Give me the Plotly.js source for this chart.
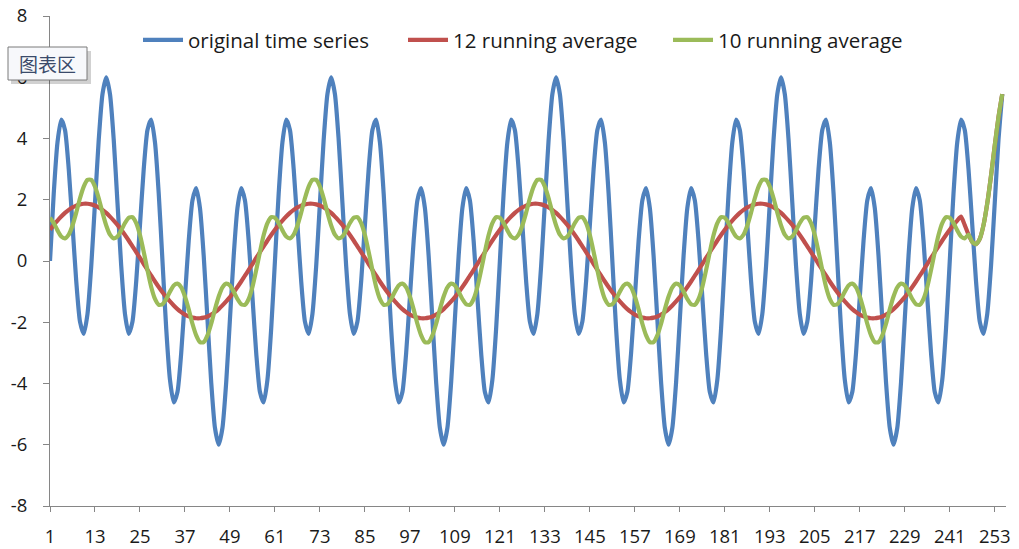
<!DOCTYPE html>
<html>
<head>
<meta charset="utf-8">
<script src="https://cdn.plot.ly/plotly-3.0.1.min.js"></script>
<style>
html,body{margin:0;padding:0;background:#fff;}
#chart{width:1019px;height:549px;}
</style>
</head>
<body>
<div id="chart"></div>
<script>
const seriesNames = ['original time series', '12 running average', '10 running average'];

const originalSeries = [
0,2.21,3.88,4.62,4.28,3.00,1.18,-0.66,-1.98,-2.38,-1.73,-0.17,1.90,3.96,5.45,6.00,5.45,3.96,1.90,-0.17,-1.73,-2.38,-1.98,-0.66,1.18,3.00,4.28,4.62,3.88,2.21,
0,-2.21,-3.88,-4.62,-4.28,-3.00,-1.18,0.66,1.98,2.38,1.73,0.17,-1.90,-3.96,-5.45,-6.00,-5.45,-3.96,-1.90,0.17,1.73,2.38,1.98,0.66,-1.18,-3.00,-4.28,-4.62,-3.88,-2.21,
0,2.21,3.88,4.62,4.28,3.00,1.18,-0.66,-1.98,-2.38,-1.73,-0.17,1.90,3.96,5.45,6.00,5.45,3.96,1.90,-0.17,-1.73,-2.38,-1.98,-0.66,1.18,3.00,4.28,4.62,3.88,2.21,
0,-2.21,-3.88,-4.62,-4.28,-3.00,-1.18,0.66,1.98,2.38,1.73,0.17,-1.90,-3.96,-5.45,-6.00,-5.45,-3.96,-1.90,0.17,1.73,2.38,1.98,0.66,-1.18,-3.00,-4.28,-4.62,-3.88,-2.21,
0,2.21,3.88,4.62,4.28,3.00,1.18,-0.66,-1.98,-2.38,-1.73,-0.17,1.90,3.96,5.45,6.00,5.45,3.96,1.90,-0.17,-1.73,-2.38,-1.98,-0.66,1.18,3.00,4.28,4.62,3.88,2.21,
0,-2.21,-3.88,-4.62,-4.28,-3.00,-1.18,0.66,1.98,2.38,1.73,0.17,-1.90,-3.96,-5.45,-6.00,-5.45,-3.96,-1.90,0.17,1.73,2.38,1.98,0.66,-1.18,-3.00,-4.28,-4.62,-3.88,-2.21,
0,2.21,3.88,4.62,4.28,3.00,1.18,-0.66,-1.98,-2.38,-1.73,-0.17,1.90,3.96,5.45,6.00,5.45,3.96,1.90,-0.17,-1.73,-2.38,-1.98,-0.66,1.18,3.00,4.28,4.62,3.88,2.21,
0,-2.21,-3.88,-4.62,-4.28,-3.00,-1.18,0.66,1.98,2.38,1.73,0.17,-1.90,-3.96,-5.45,-6.00,-5.45,-3.96,-1.90,0.17,1.73,2.38,1.98,0.66,-1.18,-3.00,-4.28,-4.62,-3.88,-2.21,
0,2.21,3.88,4.62,4.28,3.00,1.18,-0.66,-1.98,-2.38,-1.73,-0.17,1.90,3.96,5.45
];

const running12 = [
1.02,1.18,1.32,1.45,1.57,1.67,1.75,1.81,1.85,1.87,1.87,1.85,1.81,1.75,1.67,1.57,1.45,1.32,1.18,1.02,0.85,0.67,0.48,0.29,0.10,-0.10,-0.29,-0.48,-0.67,-0.85,
-1.02,-1.18,-1.32,-1.45,-1.57,-1.67,-1.75,-1.81,-1.85,-1.87,-1.87,-1.85,-1.81,-1.75,-1.67,-1.57,-1.45,-1.32,-1.18,-1.02,-0.85,-0.67,-0.48,-0.29,-0.10,0.10,0.29,0.48,0.67,0.85,
1.02,1.18,1.32,1.45,1.57,1.67,1.75,1.81,1.85,1.87,1.87,1.85,1.81,1.75,1.67,1.57,1.45,1.32,1.18,1.02,0.85,0.67,0.48,0.29,0.10,-0.10,-0.29,-0.48,-0.67,-0.85,
-1.02,-1.18,-1.32,-1.45,-1.57,-1.67,-1.75,-1.81,-1.85,-1.87,-1.87,-1.85,-1.81,-1.75,-1.67,-1.57,-1.45,-1.32,-1.18,-1.02,-0.85,-0.67,-0.48,-0.29,-0.10,0.10,0.29,0.48,0.67,0.85,
1.02,1.18,1.32,1.45,1.57,1.67,1.75,1.81,1.85,1.87,1.87,1.85,1.81,1.75,1.67,1.57,1.45,1.32,1.18,1.02,0.85,0.67,0.48,0.29,0.10,-0.10,-0.29,-0.48,-0.67,-0.85,
-1.02,-1.18,-1.32,-1.45,-1.57,-1.67,-1.75,-1.81,-1.85,-1.87,-1.87,-1.85,-1.81,-1.75,-1.67,-1.57,-1.45,-1.32,-1.18,-1.02,-0.85,-0.67,-0.48,-0.29,-0.10,0.10,0.29,0.48,0.67,0.85,
1.02,1.18,1.32,1.45,1.57,1.67,1.75,1.81,1.85,1.87,1.87,1.85,1.81,1.75,1.67,1.57,1.45,1.32,1.18,1.02,0.85,0.67,0.48,0.29,0.10,-0.10,-0.29,-0.48,-0.67,-0.85,
-1.02,-1.18,-1.32,-1.45,-1.57,-1.67,-1.75,-1.81,-1.85,-1.87,-1.87,-1.85,-1.81,-1.75,-1.67,-1.57,-1.45,-1.32,-1.18,-1.02,-0.85,-0.67,-0.48,-0.29,-0.10,0.10,0.29,0.48,0.67,0.85,
1.02,1.18,1.32,1.45,1.17,0.86,0.62,0.55,0.72,1.17,1.88,2.78,3.77,4.70,5.45
];

const running10 = [
1.41,1.24,1.00,0.80,0.74,0.86,1.16,1.58,2.05,2.43,2.65,2.65,2.43,2.05,1.58,1.16,0.86,0.74,0.80,1.00,1.24,1.41,1.43,1.24,0.85,0.30,-0.30,-0.85,-1.24,-1.43,
-1.41,-1.24,-1.00,-0.80,-0.74,-0.86,-1.16,-1.58,-2.05,-2.43,-2.65,-2.65,-2.43,-2.05,-1.58,-1.16,-0.86,-0.74,-0.80,-1.00,-1.24,-1.41,-1.43,-1.24,-0.85,-0.30,0.30,0.85,1.24,1.43,
1.41,1.24,1.00,0.80,0.74,0.86,1.16,1.58,2.05,2.43,2.65,2.65,2.43,2.05,1.58,1.16,0.86,0.74,0.80,1.00,1.24,1.41,1.43,1.24,0.85,0.30,-0.30,-0.85,-1.24,-1.43,
-1.41,-1.24,-1.00,-0.80,-0.74,-0.86,-1.16,-1.58,-2.05,-2.43,-2.65,-2.65,-2.43,-2.05,-1.58,-1.16,-0.86,-0.74,-0.80,-1.00,-1.24,-1.41,-1.43,-1.24,-0.85,-0.30,0.30,0.85,1.24,1.43,
1.41,1.24,1.00,0.80,0.74,0.86,1.16,1.58,2.05,2.43,2.65,2.65,2.43,2.05,1.58,1.16,0.86,0.74,0.80,1.00,1.24,1.41,1.43,1.24,0.85,0.30,-0.30,-0.85,-1.24,-1.43,
-1.41,-1.24,-1.00,-0.80,-0.74,-0.86,-1.16,-1.58,-2.05,-2.43,-2.65,-2.65,-2.43,-2.05,-1.58,-1.16,-0.86,-0.74,-0.80,-1.00,-1.24,-1.41,-1.43,-1.24,-0.85,-0.30,0.30,0.85,1.24,1.43,
1.41,1.24,1.00,0.80,0.74,0.86,1.16,1.58,2.05,2.43,2.65,2.65,2.43,2.05,1.58,1.16,0.86,0.74,0.80,1.00,1.24,1.41,1.43,1.24,0.85,0.30,-0.30,-0.85,-1.24,-1.43,
-1.41,-1.24,-1.00,-0.80,-0.74,-0.86,-1.16,-1.58,-2.05,-2.43,-2.65,-2.65,-2.43,-2.05,-1.58,-1.16,-0.86,-0.74,-0.80,-1.00,-1.24,-1.41,-1.43,-1.24,-0.85,-0.30,0.30,0.85,1.24,1.43,
1.41,1.24,1.00,0.80,0.74,0.86,0.62,0.55,0.72,1.17,1.88,2.78,3.77,4.70,5.45
];

const xTickValues = [1,13,25,37,49,61,73,85,97,109,121,133,145,157,169,181,193,205,217,229,241,253];
const xTickLabels = ['1','13','25','37','49','61','73','85','97','109','121','133','145','157','169','181','193','205','217','229','241','253'];
const yTickValues = [-8,-6,-4,-2,0,2,4,6,8];

const colors = ['#4F81BD', '#C0504D', '#9BBB59'];
const FONT = 'Open Sans, Liberation Sans, sans-serif';

function idx(arr){ return arr.map((_, i) => i + 1); }

const allSeries = [originalSeries, running12, running10];
const traces = allSeries.map((ys, k) => ({
  type: 'scatter',
  mode: 'lines',
  name: seriesNames[k],
  x: idx(ys),
  y: ys,
  line: {color: colors[k], width: 4.2, shape: 'spline', smoothing: 0.6},
  hoverinfo: 'skip'
}));

const layout = {
  width: 1019,
  height: 549,
  margin: {l: 50, r: 13, t: 16, b: 43},
  paper_bgcolor: '#ffffff',
  plot_bgcolor: '#ffffff',
  font: {family: FONT, size: 18, color: '#1a1a1a'},
  showlegend: true,
  legend: {
    orientation: 'h',
    x: (138-50)/956, xanchor: 'left',
    y: 0.951, yanchor: 'middle',
    bgcolor: 'rgba(0,0,0,0)',
    itemwidth: 40,
    entrywidth: 210,
    entrywidthmode: 'pixels',
    font: {family: FONT, size: 20.5, color: '#1a1a1a'}
  },
  xaxis: {
    range: [1, 256],
    tickmode: 'array',
    tickvals: xTickValues,
    ticktext: xTickLabels,
    showgrid: false,
    zeroline: false,
    showline: true,
    linecolor: '#868686',
    linewidth: 1,
    ticks: 'outside',
    ticklen: 5,
    tickcolor: '#868686',
    ticklabelstandoff: 9,
    tickfont: {family: FONT, size: 18.5, color: '#1a1a1a'}
  },
  yaxis: {
    range: [-8, 8],
    tickmode: 'array',
    tickvals: yTickValues,
    ticktext: yTickValues.map(String),
    showgrid: false,
    zeroline: false,
    showline: true,
    linecolor: '#868686',
    linewidth: 1,
    ticks: 'outside',
    ticklen: 6,
    tickcolor: '#868686',
    ticklabelstandoff: 12,
    tickfont: {family: FONT, size: 18.5, color: '#1a1a1a'}
  },
  shapes: [
    {type: 'rect', xref: 'paper', yref: 'paper', layer: 'above',
     x0: (11-50)/956, x1: (91-50)/956, y0: 1-(84-16)/490, y1: 1-(51-16)/490,
     fillcolor: 'rgba(0,0,0,0.18)', line: {width: 0}},
    {type: 'rect', xref: 'paper', yref: 'paper', layer: 'above',
     x0: (8-50)/956, x1: (87-50)/956, y0: 1-(80-16)/490, y1: 1-(47-16)/490,
     fillcolor: '#f7f8fb', line: {color: '#7a7a7a', width: 1}}
  ],
  annotations: [
    {xref: 'paper', yref: 'paper', x: (47.5-50)/956, y: 1-(63.5-16)/490,
     xanchor: 'center', yanchor: 'middle', showarrow: false,
     text: '图表区', font: {family: 'Noto Sans CJK SC', size: 19, color: '#3a4a6a'}}
  ]
};

Plotly.newPlot('chart', traces, layout, {displayModeBar: false, staticPlot: true});
</script>
</body>
</html>
